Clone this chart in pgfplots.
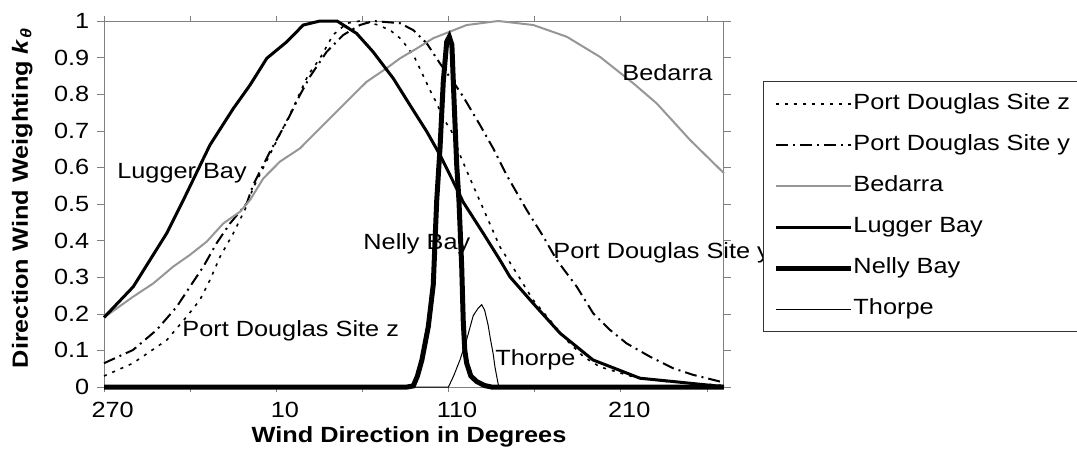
\documentclass[border=0pt]{standalone}
\usepackage{fontspec}
\setmainfont{Liberation Sans}[FakeStretch=1.15]
\usepackage{pgfplots}
\pgfplotsset{compat=1.18}
\definecolor{bedgray}{RGB}{150,150,150}
\definecolor{framegray}{RGB}{128,128,128}

\begin{document}
\fontsize{11pt}{13pt}\selectfont
\begin{tikzpicture}
\begin{axis}[
  at={(52pt,35pt)}, anchor=south west,
  scale only axis, width=310pt, height=183pt,
  xmin=265, xmax=625, ymin=0, ymax=1,
  clip=false,
  axis line style={draw=framegray, line width=0.5pt},
  tick align=outside,
  xtick={270,370,470,570},
  xticklabels={270,10,110,210},
  major x tick style={draw=none},
  minor xtick={265,315,365,415,465,515,565,615},
  minor x tick style={draw=framegray},
  minor tick length=2.5pt,
  major tick length=3.5pt,
  ytick={0,0.1,0.2,0.3,0.4,0.5,0.6,0.7,0.8,0.9,1},
  yticklabels={0,0.1,0.2,0.3,0.4,0.5,0.6,0.7,0.8,0.9,1},
  y tick style={draw=framegray},
  xlabel={\bfseries Wind Direction in Degrees},
  xlabel style={at={(axis description cs:0.492,-0.137)}, anchor=center},
  ylabel={\bfseries Direction Wind Weighting \textit{k}\textsubscript{\textit{θ}}},
  ylabel style={at={(axis description cs:-0.132,0.516)}, anchor=center},
  legend cell align=left,
  legend image code/.code={\draw[#1] (0pt,0pt) -- (37.5pt,0pt);},
  legend style={at={(1.0629,0.836)}, anchor=north west, draw=black!80,
    line width=0.5pt, inner xsep=5pt, inner ysep=6pt, row sep=10pt,
    nodes={inner sep=0pt, text height=8pt, text depth=2.5pt},
    /tikz/every even column/.append style={column sep=3.5pt}},
]

% Port Douglas Site z
\addplot[black, line width=0.8pt, dash pattern=on 1.5pt off 3pt] coordinates {
(265,0.03) (281.8,0.065) (301.4,0.128) (313,0.192) (320.7,0.238) (326.5,0.292)
(332.4,0.356) (340.1,0.42) (347.9,0.495) (351.5,0.543) (363.1,0.652) (374.7,0.762)
(383.5,0.852) (390.4,0.898) (398,0.962) (406.1,0.994) (413.6,1.0) (423.5,0.99)
(431.1,0.975) (436.9,0.953) (440.9,0.93) (445.6,0.898) (450.2,0.852) (454.3,0.811)
(458.2,0.775) (462,0.734) (466.9,0.698) (471.7,0.634) (477.5,0.57) (484.3,0.497)
(494.9,0.383) (504.6,0.311) (514.1,0.238) (533.7,0.128) (543.3,0.083) (553,0.055)
(572.2,0.028) (591.7,0.015) (622.6,0.005) (625,0.004)
};
% Port Douglas Site y
\addplot[black, line width=1pt, dash pattern=on 6pt off 2.5pt on 1pt off 2.5pt] coordinates {
(265,0.065) (281.8,0.101) (295.6,0.156) (307.2,0.219) (314.9,0.274) (322.7,0.329)
(330.4,0.393) (338.2,0.447) (347.9,0.502) (351.6,0.552) (361.4,0.643) (371.1,0.725)
(378.8,0.798) (384.6,0.848) (394.3,0.916) (404,0.962) (413.6,0.989) (421.4,1.0)
(436.9,0.994) (444.6,0.975) (452.4,0.939) (460.1,0.884) (467.8,0.834) (473.6,0.793)
(483.3,0.716) (491,0.652) (498.8,0.579) (502.7,0.547) (510.4,0.484) (520.1,0.411)
(527.9,0.347) (539.5,0.274) (549.1,0.201) (558.8,0.156) (568.5,0.119) (582,0.083)
(595.6,0.051) (607.2,0.033) (622.6,0.015) (625,0.013)
};
% Bedarra
\addplot[bedgray, line width=1pt] coordinates {
(265,0.19) (282,0.247) (293.6,0.283) (305.2,0.329) (314.9,0.361) (324.6,0.397)
(334.3,0.447) (344,0.479) (349.8,0.511) (357.5,0.57) (367.2,0.616) (378.8,0.652)
(388.5,0.698) (398.1,0.743) (407.8,0.789) (417.5,0.834) (429.1,0.871) (436.9,0.898)
(446.6,0.925) (456.2,0.953) (465.9,0.971) (475.6,0.989) (487.2,0.996) (494,1.0)
(514.3,0.989) (533.7,0.957) (553,0.902) (572.3,0.83) (585.9,0.775) (605.3,0.675)
(625,0.584)
};
% Lugger Bay
\addplot[black, line width=1.5pt] coordinates {
(265,0.19) (282,0.274) (291.7,0.347) (301.4,0.42) (311,0.51) (326.5,0.661)
(340.1,0.761) (349.8,0.825) (359.5,0.898) (371.1,0.943) (380.7,0.989) (390.4,1.0)
(400.3,1.0) (411.7,0.966) (421.2,0.916) (433,0.843) (442.7,0.77) (452.4,0.698)
(460.1,0.634) (467.8,0.561) (473.6,0.505) (485.2,0.42) (494.9,0.347) (500.7,0.301)
(514.1,0.229) (529.8,0.147) (548.9,0.074) (566.4,0.042) (576.2,0.024) (595.4,0.015)
(610,0.008) (625,0.001)
};
% Nelly Bay
\addplot[black, line width=2.5pt] coordinates {
(265,0) (441,0) (444.6,0.003) (447,0.03) (449.6,0.074) (453.3,0.165) (456.2,0.28)
(457.4,0.42) (458.2,0.51) (460.1,0.652) (462,0.834) (464,0.943) (465.5,0.957)
(467,0.935) (468.2,0.79) (469.8,0.607) (471.1,0.51) (472.7,0.329) (473.6,0.18)
(474.5,0.1) (475.6,0.065) (478,0.03) (481.4,0.015) (486,0.004) (490,0) (625,0)
};
% Thorpe
\addplot[black, line width=0.5pt] coordinates {
(265,0) (465,0) (468,0.03) (471.7,0.074) (475.6,0.13) (479.4,0.195) (482.2,0.215)
(484.3,0.225) (486,0.21) (488,0.17) (489.5,0.128) (491,0.09) (492,0.055)
(494,0.005) (495,0) (625,0)
};
\legend{Port Douglas Site z, Port Douglas Site y, Bedarra, Lugger Bay, Nelly Bay, Thorpe}

\node[anchor=west, inner sep=0pt] at (axis cs:272.5,0.585) {Lugger Bay};
\node[anchor=west, inner sep=0pt] at (axis cs:565.8,0.858) {Bedarra};
\node[anchor=west, inner sep=0pt] at (axis cs:415.4,0.39) {Nelly Bay};
\node[anchor=west, inner sep=0pt] at (axis cs:525.7,0.366) {Port Douglas Site y};
\node[anchor=west, inner sep=0pt] at (axis cs:310.3,0.153) {Port Douglas Site z};
\node[anchor=west, inner sep=0pt] at (axis cs:492,0.074) {Thorpe};
\end{axis}
\pgfresetboundingbox
\useasboundingbox (0,0) rectangle (538.5pt,228.5pt);
\end{tikzpicture}
\end{document}
